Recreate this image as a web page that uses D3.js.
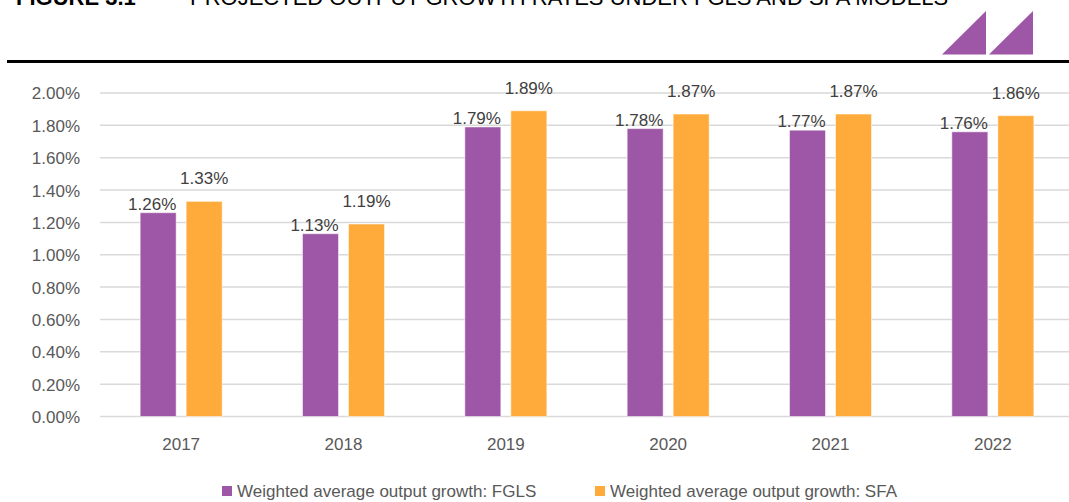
<!DOCTYPE html>
<html>
<head>
<meta charset="utf-8">
<script src="https://cdn.jsdelivr.net/npm/d3@7"></script>
<style>
  body { margin: 0; background: #fff; }
  svg { display: block; font-family: "Liberation Sans", Arial, sans-serif; }
</style>
</head>
<body>
<svg id="chart"></svg>
<script>
const years = ['2017', '2018', '2019', '2020', '2021', '2022'];
const fgls = [1.26, 1.13, 1.79, 1.78, 1.77, 1.76];
const sfa = [1.33, 1.19, 1.89, 1.87, 1.87, 1.86];
const seriesNames = ['Weighted average output growth: FGLS', 'Weighted average output growth: SFA'];
const yTicks = [0, 0.2, 0.4, 0.6, 0.8, 1.0, 1.2, 1.4, 1.6, 1.8, 2.0];

const width = 1069;
const height = 502;
const colors = ['#9d57a6', '#feab3b'];

const svg = d3.select('svg#chart')
    .attr('width', width)
    .attr('height', height);

// header (cut off at the top in the original page)
svg.append('text')
    .attr('x', 16).attr('y', 5)
    .attr('font-size', 22).attr('font-weight', 'bold')
    .attr('fill', '#000')
    .text('FIGURE 3.1');
svg.append('text')
    .attr('x', 190).attr('y', 5)
    .attr('font-size', 22)
    .attr('fill', '#000')
    .text('PROJECTED OUTPUT GROWTH RATES UNDER FGLS AND SFA MODELS');

const tri = [[942, 986], [989, 1033]];
tri.forEach(t => {
    svg.append('path')
        .attr('d', `M${t[0]},54.5 L${t[1]},11 L${t[1]},54.5 Z`)
        .attr('fill', '#9d57a6');
});
svg.append('line')
    .attr('x1', 7).attr('x2', width)
    .attr('y1', 61.5).attr('y2', 61.5)
    .attr('stroke', '#000').attr('stroke-width', 3);

// scales
const x0 = d3.scaleBand().domain(years).range([100, 1074]);
const bw = x0.bandwidth();
const x1 = d3.scaleBand().domain([0, 1])
    .range([bw / 2 - 41, bw / 2 + 41])
    .paddingInner(10 / 46);
const y = d3.scaleLinear().domain([0, 2]).range([416.5, 93]);

// grid
svg.append('g')
    .selectAll('line')
    .data(yTicks)
    .join('line')
    .attr('x1', 100).attr('x2', width)
    .attr('y1', d => y(d)).attr('y2', d => y(d))
    .attr('stroke', '#d9d9d9').attr('stroke-width', 1.5);

// y axis labels
const yAxis = d3.axisLeft(y).tickValues(yTicks)
    .tickFormat(d => d.toFixed(2) + '%')
    .tickSize(0).tickPadding(0);
svg.append('g')
    .attr('transform', 'translate(80,0)')
    .call(yAxis)
    .call(g => g.select('.domain').remove())
    .call(g => g.selectAll('text')
        .attr('font-size', 17)
        .attr('font-family', '"Liberation Sans", Arial, sans-serif')
        .attr('fill', '#595959')
        .attr('dy', '0.35em'));

// x axis labels
const xAxis = d3.axisBottom(x0).tickSize(0).tickPadding(0);
svg.append('g')
    .attr('transform', 'translate(0,450)')
    .call(xAxis)
    .call(g => g.select('.domain').remove())
    .call(g => g.selectAll('text')
        .attr('font-size', 17)
        .attr('font-family', '"Liberation Sans", Arial, sans-serif')
        .attr('fill', '#595959')
        .attr('dy', 0));

// bars
const rows = years.map((yr, i) => ({ year: yr, values: [fgls[i], sfa[i]] }));
const groups = svg.append('g')
    .selectAll('g')
    .data(rows)
    .join('g')
    .attr('transform', d => `translate(${x0(d.year)},0)`);

groups.selectAll('rect')
    .data(d => d.values.map((v, k) => ({ k, v })))
    .join('rect')
    .attr('x', d => x1(d.k))
    .attr('width', x1.bandwidth())
    .attr('y', d => y(d.v))
    .attr('height', d => y(0) - y(d.v))
    .attr('fill', d => colors[d.k])
    .attr('stroke', '#fff').attr('stroke-opacity', 0.5).attr('stroke-width', 1);

groups.selectAll('text')
    .data(d => d.values.map((v, k) => ({ k, v })))
    .join('text')
    .attr('x', d => x1(d.k) + x1.bandwidth() / 2 + (d.k === 0 ? -6 : 0))
    .attr('y', d => y(d.v) - (d.k === 0 ? 3 : 17))
    .attr('text-anchor', 'middle')
    .attr('font-size', 17)
    .attr('fill', '#404040')
    .text(d => d.v.toFixed(2) + '%');

// legend
const legendX = [222, 595];
const legend = svg.append('g')
    .selectAll('g')
    .data(seriesNames)
    .join('g')
    .attr('transform', (d, i) => `translate(${legendX[i]},0)`);
legend.append('rect')
    .attr('x', 0).attr('y', 486)
    .attr('width', 10).attr('height', 10)
    .attr('fill', (d, i) => colors[i]);
legend.append('text')
    .attr('x', 15).attr('y', 497)
    .attr('font-size', 17)
    .attr('fill', '#595959')
    .text(d => d);
</script>
</body>
</html>
